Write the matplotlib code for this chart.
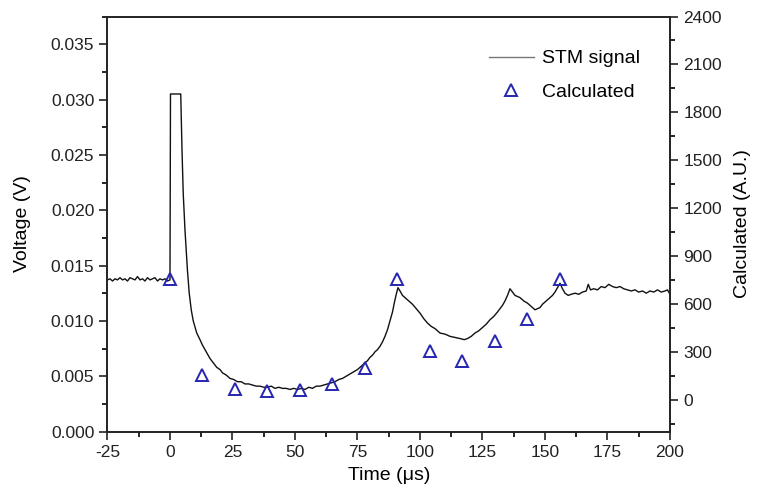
import matplotlib
matplotlib.use("Agg")
import matplotlib.pyplot as plt
from matplotlib.lines import Line2D
from matplotlib.ticker import MultipleLocator

plt.rcParams["font.family"] = ["Liberation Sans", "DejaVu Sans"]
plt.rcParams["axes.unicode_minus"] = False

# STM signal trace (time in us, voltage in V)
# baseline before the pulse
base_t = [-25, -24, -23, -22, -21, -20, -19, -18, -17, -16,
          -15, -14, -13, -12, -11, -10, -9, -8, -7, -6,
          -5, -4, -3, -2, -1, 0]
base_v = [0.0137, 0.0138, 0.0136, 0.0138, 0.0137, 0.0139, 0.0137, 0.0138, 0.0136, 0.0139,
          0.0138, 0.0137, 0.0140, 0.0137, 0.0138, 0.0136, 0.0139, 0.0137, 0.0138, 0.0139,
          0.0136, 0.0138, 0.0137, 0.0138, 0.0136, 0.0137]
# pulse, decay and first rise
pulse_t = [0.2, 4.3, 4.8, 5.3, 6.0, 6.4, 7.0, 7.7, 8.5, 9.3,
           10.7, 12, 13, 14, 15, 16, 17, 18.7, 20, 21,
           22.5, 24, 25.5, 27, 28.5, 30, 31.5, 33, 34.5, 36,
           37.5, 39, 40.5, 42, 43.5, 45, 46.5, 48, 49.5, 51,
           52.5, 54, 55.5, 57, 58.5, 60, 61.5, 63, 64.5, 66,
           67.5, 69, 70.5, 72, 73.5, 75, 76.5, 78, 79, 80,
           81, 82, 83, 84, 85, 86, 87, 88, 89, 89.8,
           90.5, 91.2]
pulse_v = [0.0305, 0.0305, 0.0255, 0.0215, 0.0182, 0.0167, 0.0145, 0.0125, 0.0110, 0.0100,
           0.0089, 0.0083, 0.0078, 0.0074, 0.0070, 0.0066, 0.0063, 0.0058, 0.0056, 0.0053,
           0.0051, 0.0048, 0.0047, 0.0045, 0.0045, 0.0043, 0.0043, 0.0042, 0.0041, 0.0041,
           0.0040, 0.0040, 0.0041, 0.0039, 0.0040, 0.0039, 0.0039, 0.0038, 0.0039, 0.0038,
           0.0039, 0.0038, 0.0040, 0.0039, 0.0041, 0.0041, 0.0042, 0.0043, 0.0044, 0.0045,
           0.0047, 0.0048, 0.0050, 0.0052, 0.0054, 0.0056, 0.0059, 0.0062, 0.0064, 0.0067,
           0.0069, 0.0072, 0.0074, 0.0077, 0.0081, 0.0086, 0.0092, 0.0100, 0.0108, 0.0117,
           0.0124, 0.0130]
# later peaks and tail
tail_t = [92, 93, 94, 95, 96, 97, 98.5, 100, 101.5, 103,
          104.5, 106, 108, 110, 112, 114, 116, 117.7, 119, 120.5,
          122, 123.5, 125, 126.5, 128, 129.5, 131, 132, 133, 134,
          135, 136, 137, 138, 139, 140, 141.5, 143, 144.5, 146,
          147, 148, 149, 150, 151, 152, 153, 154, 155, 156,
          157, 158, 159.3, 160.5, 162, 163.5, 165, 166.5, 167.3, 168.2,
          169.5, 171, 172.5, 174, 175.5, 177, 178.5, 180, 181.5, 183,
          184.5, 186, 187.5, 189, 190.5, 192, 193.5, 195, 196.5, 198,
          199, 200]
tail_v = [0.0127, 0.0123, 0.0121, 0.0119, 0.0117, 0.0115, 0.0111, 0.0107, 0.0102, 0.0098,
          0.0095, 0.0093, 0.0089, 0.0088, 0.0086, 0.0085, 0.0084, 0.0083, 0.0084, 0.0086,
          0.0089, 0.0091, 0.0094, 0.0097, 0.0101, 0.0104, 0.0108, 0.0111, 0.0114, 0.0118,
          0.0123, 0.0129, 0.0126, 0.0123, 0.0122, 0.0121, 0.0118, 0.0116, 0.0113, 0.0110,
          0.0111, 0.0112, 0.0115, 0.0117, 0.0119, 0.0121, 0.0123, 0.0126, 0.0130, 0.0134,
          0.0129, 0.0125, 0.0123, 0.0124, 0.0125, 0.0124, 0.0126, 0.0127, 0.0133, 0.0128,
          0.0129, 0.0128, 0.0131, 0.0130, 0.0133, 0.0131, 0.0130, 0.0131, 0.0129, 0.0128,
          0.0127, 0.0128, 0.0126, 0.0127, 0.0125, 0.0127, 0.0126, 0.0128, 0.0126, 0.0127,
          0.0128, 0.0124]

# calculated points (right axis, A.U.)
calc_t = [0, 13, 26, 39, 52, 65, 78, 91, 104, 117, 130, 143, 156]
calc_v = [755, 155, 65, 55, 60, 100, 200, 755, 305, 240, 370, 505, 755]

BLUE = "#2626b0"

stm_t = base_t + pulse_t + tail_t
stm_v = base_v + pulse_v + tail_v

fig = plt.figure(figsize=(7.58, 4.96), dpi=100)
ax = fig.add_axes([0.1418, 0.130, 0.7421, 0.8367])
ax2 = ax.twinx()

ax.plot(stm_t, stm_v, color="#111111", lw=1.0)
ax2.plot(calc_t, calc_v, ls="none", marker="^", ms=8, mfc="none",
         mec=BLUE, mew=1.4)

ax.set_xlim(-25, 200)
ax.set_ylim(0, 0.0375)
ax2.set_ylim(-200, 2400)

ax.xaxis.set_major_locator(MultipleLocator(25))
ax.xaxis.set_minor_locator(MultipleLocator(12.5))
ax.yaxis.set_major_locator(MultipleLocator(0.005))
ax.yaxis.set_minor_locator(MultipleLocator(0.0025))
ax.yaxis.set_major_formatter(plt.FormatStrFormatter("%.3f"))
ax2.set_yticks([0, 300, 600, 900, 1200, 1500, 1800, 2100, 2400])
ax2.yaxis.set_minor_locator(MultipleLocator(150))

for a in (ax, ax2):
    a.tick_params(which="major", direction="out", length=6, width=1.2,
                  labelsize=12.5, colors="#222222")
    a.tick_params(which="minor", direction="out", length=3.5, width=1.2)
    for s in a.spines.values():
        s.set_linewidth(1.2)
        s.set_color("#222222")
ax.tick_params(axis="x", pad=4)

ax.set_xlabel("Time (μs)", fontsize=14, labelpad=5)
ax.set_ylabel("Voltage (V)", fontsize=14, labelpad=14)
ax2.set_ylabel("Calculated (A.U.)", fontsize=14, labelpad=9)

handles = [Line2D([], [], color="#777777", lw=1.0),
           Line2D([], [], ls="none", marker="^", ms=8, mfc="none",
                  mec=BLUE, mew=1.4)]
ax.legend(handles, ["STM signal", "Calculated"], loc="upper right",
          bbox_to_anchor=(0.977, 0.962), frameon=False, fontsize=14,
          handlelength=2.3, labelspacing=0.8, handletextpad=0.4)

fig.savefig("out.png", dpi=100, facecolor="white")
